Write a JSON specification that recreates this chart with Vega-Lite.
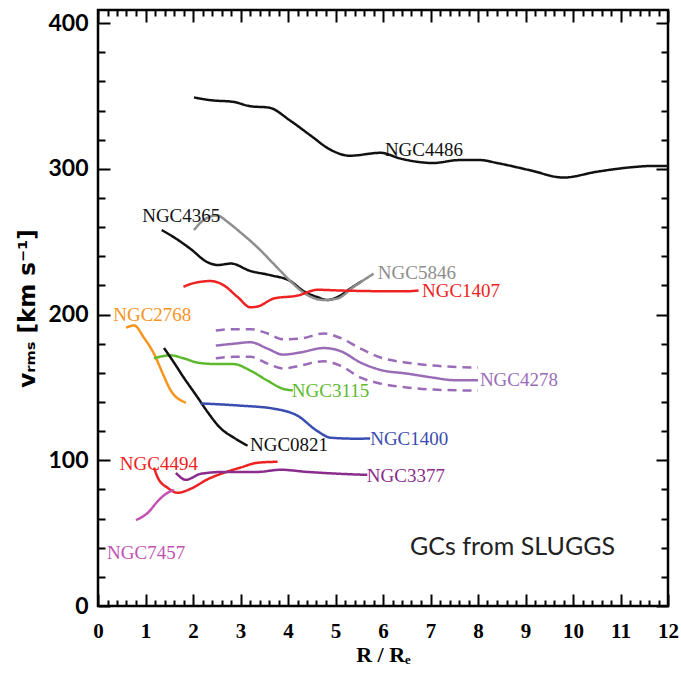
{
  "$schema": "https://vega.github.io/schema/vega-lite/v6.json",
  "width": 570,
  "height": 596,
  "autosize": "none",
  "padding": {"left": 98, "top": 10, "right": 13, "bottom": 67},
  "background": "white",
  "config": {"view": {"stroke": "black", "strokeWidth": 2.5}, "axis": {"grid": false, "domain": false}},
  "datasets": {
    "curves": [
      {"galaxy":"NGC4486","band":"mean","x":2.02,"v":349},{"galaxy":"NGC4486","band":"mean","x":2.4,"v":347},{"galaxy":"NGC4486","band":"mean","x":2.84,"v":346},{"galaxy":"NGC4486","band":"mean","x":3.2,"v":343},{"galaxy":"NGC4486","band":"mean","x":3.6,"v":342},{"galaxy":"NGC4486","band":"mean","x":4.05,"v":333},{"galaxy":"NGC4486","band":"mean","x":4.47,"v":323},{"galaxy":"NGC4486","band":"mean","x":4.9,"v":313},{"galaxy":"NGC4486","band":"mean","x":5.3,"v":309},{"galaxy":"NGC4486","band":"mean","x":5.95,"v":311},{"galaxy":"NGC4486","band":"mean","x":6.37,"v":307},{"galaxy":"NGC4486","band":"mean","x":7.06,"v":304},{"galaxy":"NGC4486","band":"mean","x":7.6,"v":306},{"galaxy":"NGC4486","band":"mean","x":8.05,"v":306},{"galaxy":"NGC4486","band":"mean","x":8.4,"v":304},{"galaxy":"NGC4486","band":"mean","x":9.1,"v":299},{"galaxy":"NGC4486","band":"mean","x":9.8,"v":294},{"galaxy":"NGC4486","band":"mean","x":10.5,"v":298},{"galaxy":"NGC4486","band":"mean","x":11.2,"v":301},{"galaxy":"NGC4486","band":"mean","x":11.7,"v":302},{"galaxy":"NGC4486","band":"mean","x":12.0,"v":302},
      {"galaxy":"NGC4365","band":"mean","x":1.34,"v":258},{"galaxy":"NGC4365","band":"mean","x":1.6,"v":253},{"galaxy":"NGC4365","band":"mean","x":1.95,"v":245},{"galaxy":"NGC4365","band":"mean","x":2.3,"v":236},{"galaxy":"NGC4365","band":"mean","x":2.52,"v":234},{"galaxy":"NGC4365","band":"mean","x":2.8,"v":235},{"galaxy":"NGC4365","band":"mean","x":3.2,"v":230},{"galaxy":"NGC4365","band":"mean","x":3.63,"v":227},{"galaxy":"NGC4365","band":"mean","x":4.05,"v":223},{"galaxy":"NGC4365","band":"mean","x":4.33,"v":216},{"galaxy":"NGC4365","band":"mean","x":4.62,"v":212},{"galaxy":"NGC4365","band":"mean","x":4.83,"v":210},{"galaxy":"NGC4365","band":"mean","x":5.1,"v":213},{"galaxy":"NGC4365","band":"mean","x":5.32,"v":218},{"galaxy":"NGC4365","band":"mean","x":5.56,"v":223},
      {"galaxy":"NGC5846","band":"mean","x":2.02,"v":258},{"galaxy":"NGC5846","band":"mean","x":2.23,"v":265},{"galaxy":"NGC5846","band":"mean","x":2.5,"v":268},{"galaxy":"NGC5846","band":"mean","x":2.75,"v":263},{"galaxy":"NGC5846","band":"mean","x":2.94,"v":258},{"galaxy":"NGC5846","band":"mean","x":3.36,"v":246},{"galaxy":"NGC5846","band":"mean","x":3.78,"v":232},{"galaxy":"NGC5846","band":"mean","x":4.05,"v":223},{"galaxy":"NGC5846","band":"mean","x":4.33,"v":215},{"galaxy":"NGC5846","band":"mean","x":4.75,"v":210},{"galaxy":"NGC5846","band":"mean","x":5.04,"v":211},{"galaxy":"NGC5846","band":"mean","x":5.38,"v":219},{"galaxy":"NGC5846","band":"mean","x":5.8,"v":228},
      {"galaxy":"NGC1407","band":"mean","x":1.8,"v":219},{"galaxy":"NGC1407","band":"mean","x":1.95,"v":221},{"galaxy":"NGC1407","band":"mean","x":2.37,"v":223},{"galaxy":"NGC1407","band":"mean","x":2.65,"v":220},{"galaxy":"NGC1407","band":"mean","x":2.94,"v":212},{"galaxy":"NGC1407","band":"mean","x":3.21,"v":205},{"galaxy":"NGC1407","band":"mean","x":3.36,"v":205.5},{"galaxy":"NGC1407","band":"mean","x":3.7,"v":211},{"galaxy":"NGC1407","band":"mean","x":4.2,"v":213},{"galaxy":"NGC1407","band":"mean","x":4.62,"v":217},{"galaxy":"NGC1407","band":"mean","x":5.1,"v":216.5},{"galaxy":"NGC1407","band":"mean","x":6.16,"v":216},{"galaxy":"NGC1407","band":"mean","x":6.5,"v":216},{"galaxy":"NGC1407","band":"mean","x":6.75,"v":216.5},
      {"galaxy":"NGC2768","band":"mean","x":0.59,"v":191},{"galaxy":"NGC2768","band":"mean","x":0.76,"v":192.5},{"galaxy":"NGC2768","band":"mean","x":0.97,"v":184},{"galaxy":"NGC2768","band":"mean","x":1.18,"v":173},{"galaxy":"NGC2768","band":"mean","x":1.37,"v":159},{"galaxy":"NGC2768","band":"mean","x":1.53,"v":148},{"galaxy":"NGC2768","band":"mean","x":1.85,"v":139.5},
      {"galaxy":"NGC3115","band":"mean","x":1.18,"v":170},{"galaxy":"NGC3115","band":"mean","x":1.53,"v":172},{"galaxy":"NGC3115","band":"mean","x":1.8,"v":170},{"galaxy":"NGC3115","band":"mean","x":2.1,"v":167},{"galaxy":"NGC3115","band":"mean","x":2.52,"v":166},{"galaxy":"NGC3115","band":"mean","x":2.86,"v":166},{"galaxy":"NGC3115","band":"mean","x":3.21,"v":161.5},{"galaxy":"NGC3115","band":"mean","x":3.57,"v":154.6},{"galaxy":"NGC3115","band":"mean","x":3.9,"v":149},{"galaxy":"NGC3115","band":"mean","x":4.1,"v":148},
      {"galaxy":"NGC0821","band":"mean","x":1.39,"v":177},{"galaxy":"NGC0821","band":"mean","x":1.58,"v":168},{"galaxy":"NGC0821","band":"mean","x":1.8,"v":157},{"galaxy":"NGC0821","band":"mean","x":2.1,"v":143},{"galaxy":"NGC0821","band":"mean","x":2.31,"v":133},{"galaxy":"NGC0821","band":"mean","x":2.58,"v":122},{"galaxy":"NGC0821","band":"mean","x":2.86,"v":115.5},{"galaxy":"NGC0821","band":"mean","x":3.15,"v":110},
      {"galaxy":"NGC1400","band":"mean","x":2.16,"v":139},{"galaxy":"NGC1400","band":"mean","x":3.0,"v":137.5},{"galaxy":"NGC1400","band":"mean","x":3.7,"v":135.4},{"galaxy":"NGC1400","band":"mean","x":4.2,"v":130.6},{"galaxy":"NGC1400","band":"mean","x":4.62,"v":120},{"galaxy":"NGC1400","band":"mean","x":4.9,"v":115.5},{"galaxy":"NGC1400","band":"mean","x":5.46,"v":114.8},{"galaxy":"NGC1400","band":"mean","x":5.73,"v":115},
      {"galaxy":"NGC4278","band":"mean","x":2.48,"v":178.7},{"galaxy":"NGC4278","band":"mean","x":2.86,"v":180},{"galaxy":"NGC4278","band":"mean","x":3.21,"v":181},{"galaxy":"NGC4278","band":"mean","x":3.57,"v":176.6},{"galaxy":"NGC4278","band":"mean","x":3.9,"v":172.5},{"galaxy":"NGC4278","band":"mean","x":4.26,"v":174},{"galaxy":"NGC4278","band":"mean","x":4.75,"v":177},{"galaxy":"NGC4278","band":"mean","x":5.1,"v":175},{"galaxy":"NGC4278","band":"mean","x":5.53,"v":167},{"galaxy":"NGC4278","band":"mean","x":5.95,"v":162},{"galaxy":"NGC4278","band":"mean","x":6.5,"v":159.5},{"galaxy":"NGC4278","band":"mean","x":7.06,"v":156.7},{"galaxy":"NGC4278","band":"mean","x":7.48,"v":155},{"galaxy":"NGC4278","band":"mean","x":8.0,"v":155},
      {"galaxy":"NGC4278","band":"upper","x":2.48,"v":189},{"galaxy":"NGC4278","band":"upper","x":2.86,"v":190},{"galaxy":"NGC4278","band":"upper","x":3.21,"v":190},{"galaxy":"NGC4278","band":"upper","x":3.57,"v":187},{"galaxy":"NGC4278","band":"upper","x":3.9,"v":183},{"galaxy":"NGC4278","band":"upper","x":4.26,"v":183.5},{"galaxy":"NGC4278","band":"upper","x":4.75,"v":187},{"galaxy":"NGC4278","band":"upper","x":5.1,"v":184},{"galaxy":"NGC4278","band":"upper","x":5.53,"v":176.6},{"galaxy":"NGC4278","band":"upper","x":5.95,"v":170.5},{"galaxy":"NGC4278","band":"upper","x":6.5,"v":167},{"galaxy":"NGC4278","band":"upper","x":7.06,"v":165},{"galaxy":"NGC4278","band":"upper","x":8.0,"v":163.6},
      {"galaxy":"NGC4278","band":"lower","x":2.48,"v":170},{"galaxy":"NGC4278","band":"lower","x":2.86,"v":171},{"galaxy":"NGC4278","band":"lower","x":3.21,"v":171},{"galaxy":"NGC4278","band":"lower","x":3.57,"v":166.3},{"galaxy":"NGC4278","band":"lower","x":3.9,"v":163},{"galaxy":"NGC4278","band":"lower","x":4.26,"v":165},{"galaxy":"NGC4278","band":"lower","x":4.75,"v":168},{"galaxy":"NGC4278","band":"lower","x":5.1,"v":165},{"galaxy":"NGC4278","band":"lower","x":5.53,"v":156.7},{"galaxy":"NGC4278","band":"lower","x":5.95,"v":152.6},{"galaxy":"NGC4278","band":"lower","x":6.5,"v":150},{"galaxy":"NGC4278","band":"lower","x":7.06,"v":148.5},{"galaxy":"NGC4278","band":"lower","x":8.0,"v":147.8},
      {"galaxy":"NGC4494","band":"mean","x":1.18,"v":95},{"galaxy":"NGC4494","band":"mean","x":1.26,"v":88},{"galaxy":"NGC4494","band":"mean","x":1.47,"v":81},{"galaxy":"NGC4494","band":"mean","x":1.68,"v":77.7},{"galaxy":"NGC4494","band":"mean","x":1.95,"v":80.4},{"galaxy":"NGC4494","band":"mean","x":2.31,"v":87},{"galaxy":"NGC4494","band":"mean","x":2.65,"v":91.4},{"galaxy":"NGC4494","band":"mean","x":3.0,"v":95},{"galaxy":"NGC4494","band":"mean","x":3.36,"v":98.3},{"galaxy":"NGC4494","band":"mean","x":3.78,"v":99},
      {"galaxy":"NGC3377","band":"mean","x":1.64,"v":91.4},{"galaxy":"NGC3377","band":"mean","x":1.85,"v":86.6},{"galaxy":"NGC3377","band":"mean","x":2.16,"v":90.7},{"galaxy":"NGC3377","band":"mean","x":2.65,"v":92},{"galaxy":"NGC3377","band":"mean","x":3.36,"v":92},{"galaxy":"NGC3377","band":"mean","x":3.84,"v":93.5},{"galaxy":"NGC3377","band":"mean","x":4.41,"v":92},{"galaxy":"NGC3377","band":"mean","x":5.1,"v":90.7},{"galaxy":"NGC3377","band":"mean","x":5.67,"v":90},
      {"galaxy":"NGC7457","band":"mean","x":0.8,"v":59},{"galaxy":"NGC7457","band":"mean","x":1.05,"v":64},{"galaxy":"NGC7457","band":"mean","x":1.26,"v":72},{"galaxy":"NGC7457","band":"mean","x":1.43,"v":77},{"galaxy":"NGC7457","band":"mean","x":1.6,"v":79.7}
    ],
    "labels": [
      {"galaxy":"NGC4486","x":6.04,"v":313},
      {"galaxy":"NGC4365","x":0.93,"v":267.7},
      {"galaxy":"NGC5846","x":5.89,"v":228.5},
      {"galaxy":"NGC1407","x":6.82,"v":216},
      {"galaxy":"NGC2768","x":0.32,"v":199.7},
      {"galaxy":"NGC3115","x":4.08,"v":147.6},
      {"galaxy":"NGC0821","x":3.2,"v":110.5},
      {"galaxy":"NGC1400","x":5.73,"v":114.6},
      {"galaxy":"NGC4278","x":8.04,"v":155},
      {"galaxy":"NGC4494","x":0.46,"v":97.5},
      {"galaxy":"NGC3377","x":5.66,"v":89.2},
      {"galaxy":"NGC7457","x":0.19,"v":36.4}
    ],
    "note": [{"text":"GCs from SLUGGS","x":6.57,"v":40.5}]
  },
  "resolve": {"axis": {"x": "independent", "y": "independent"}},
  "layer": [
    {
      "data": {"name": "curves"},
      "mark": {"type": "line", "interpolate": "monotone", "strokeWidth": 2.5},
      "encoding": {
        "x": {"field": "x", "type": "quantitative", "scale": {"domain": [0, 12], "nice": false, "zero": false},
          "axis": {"orient": "bottom", "values": [0,1,2,3,4,5,6,7,8,9,10,11,12], "tickSize": -12, "tickWidth": 2, "tickColor": "black",
            "labelFlush": false, "labelOverlap": false, "labelBound": false, "labelFont": "Liberation Serif", "labelFontWeight": "bold", "labelFontSize": 21, "labelColor": "black", "labelPadding": 26,
            "title": "R / Rₑ", "titleFont": "Liberation Serif", "titleFontWeight": "bold", "titleFontSize": 22, "titleColor": "black", "titlePadding": 3}},
        "y": {"field": "v", "type": "quantitative", "scale": {"domain": [0, 409], "nice": false, "zero": false},
          "axis": {"orient": "left", "values": [0,100,200,300,400], "tickSize": -12, "tickWidth": 2, "tickColor": "black",
            "labelFlush": false, "labelOverlap": false, "labelBound": false, "labelFont": "Lato", "labelFontWeight": "bold", "labelFontSize": 23, "labelColor": "black", "labelPadding": 22,
            "title": "vᵣₘₛ [km s⁻¹]", "titleFont": "DejaVu Sans", "titleFontWeight": "bold", "titleFontSize": 23, "titleColor": "black", "titlePadding": 8}},
        "color": {"field": "galaxy", "type": "nominal", "legend": null,
          "scale": {"domain": ["NGC4486","NGC4365","NGC5846","NGC1407","NGC2768","NGC3115","NGC0821","NGC1400","NGC4278","NGC4494","NGC3377","NGC7457"],
            "range": ["#111111","#111111","#8e8e8e","#ee2222","#f7941d","#5dba2f","#111111","#3a4db0","#9a6cb8","#ee2222","#8a2c8c","#c452b4"]}},
        "strokeDash": {"field": "band", "type": "nominal", "legend": null,
          "scale": {"domain": ["mean","upper","lower"], "range": [[1,0],[9,6],[9,6]]}}
      }
    },
    {
      "data": {"name": "curves"},
      "mark": {"type": "point", "opacity": 0},
      "encoding": {
        "x": {"field": "x", "type": "quantitative", "scale": {"domain": [0, 12], "nice": false, "zero": false},
          "axis": {"orient": "bottom", "values": [0.2,0.4,0.6,0.8,1.2,1.4,1.6,1.8,2.2,2.4,2.6,2.8,3.2,3.4,3.6,3.8,4.2,4.4,4.6,4.8,5.2,5.4,5.6,5.8,6.2,6.4,6.6,6.8,7.2,7.4,7.6,7.8,8.2,8.4,8.6,8.8,9.2,9.4,9.6,9.8,10.2,10.4,10.6,10.8,11.2,11.4,11.6,11.8], "tickSize": -6, "tickWidth": 2, "tickColor": "black", "labels": false, "title": null}},
        "y": {"field": "v", "type": "quantitative", "scale": {"domain": [0, 409], "nice": false, "zero": false},
          "axis": {"orient": "left", "values": [20,40,60,80,120,140,160,180,220,240,260,280,320,340,360,380], "tickSize": -7, "tickWidth": 2, "tickColor": "black", "labels": false, "title": null}}
      }
    },
    {
      "data": {"name": "curves"},
      "mark": {"type": "point", "opacity": 0},
      "encoding": {
        "x": {"field": "x", "type": "quantitative", "scale": {"domain": [0, 12], "nice": false, "zero": false},
          "axis": {"orient": "top", "values": [0,1,2,3,4,5,6,7,8,9,10,11,12], "tickSize": -12, "tickWidth": 2, "tickColor": "black", "labels": false, "title": null}},
        "y": {"field": "v", "type": "quantitative", "scale": {"domain": [0, 409], "nice": false, "zero": false},
          "axis": {"orient": "right", "values": [0,100,200,300,400], "tickSize": -12, "tickWidth": 2, "tickColor": "black", "labels": false, "title": null}}
      }
    },
    {
      "data": {"name": "curves"},
      "mark": {"type": "point", "opacity": 0},
      "encoding": {
        "x": {"field": "x", "type": "quantitative", "scale": {"domain": [0, 12], "nice": false, "zero": false},
          "axis": {"orient": "top", "values": [0.2,0.4,0.6,0.8,1.2,1.4,1.6,1.8,2.2,2.4,2.6,2.8,3.2,3.4,3.6,3.8,4.2,4.4,4.6,4.8,5.2,5.4,5.6,5.8,6.2,6.4,6.6,6.8,7.2,7.4,7.6,7.8,8.2,8.4,8.6,8.8,9.2,9.4,9.6,9.8,10.2,10.4,10.6,10.8,11.2,11.4,11.6,11.8], "tickSize": -6, "tickWidth": 2, "tickColor": "black", "labels": false, "title": null}},
        "y": {"field": "v", "type": "quantitative", "scale": {"domain": [0, 409], "nice": false, "zero": false},
          "axis": {"orient": "right", "values": [20,40,60,80,120,140,160,180,220,240,260,280,320,340,360,380], "tickSize": -7, "tickWidth": 2, "tickColor": "black", "labels": false, "title": null}}
      }
    },
    {
      "data": {"name": "labels"},
      "mark": {"type": "text", "align": "left", "baseline": "middle", "font": "Liberation Serif", "fontSize": 19},
      "encoding": {
        "x": {"field": "x", "type": "quantitative", "scale": {"domain": [0, 12], "nice": false, "zero": false}, "axis": null},
        "y": {"field": "v", "type": "quantitative", "scale": {"domain": [0, 409], "nice": false, "zero": false}, "axis": null},
        "text": {"field": "galaxy"},
        "color": {"field": "galaxy", "type": "nominal", "legend": null,
          "scale": {"domain": ["NGC4486","NGC4365","NGC5846","NGC1407","NGC2768","NGC3115","NGC0821","NGC1400","NGC4278","NGC4494","NGC3377","NGC7457"],
            "range": ["#111111","#111111","#8e8e8e","#ee2222","#f7941d","#5dba2f","#111111","#3a4db0","#9a6cb8","#ee2222","#8a2c8c","#c452b4"]}}
      }
    },
    {
      "data": {"name": "note"},
      "mark": {"type": "text", "align": "left", "baseline": "middle", "font": "Lato", "fontSize": 25, "color": "#222222"},
      "encoding": {
        "x": {"field": "x", "type": "quantitative", "scale": {"domain": [0, 12], "nice": false, "zero": false}, "axis": null},
        "y": {"field": "v", "type": "quantitative", "scale": {"domain": [0, 409], "nice": false, "zero": false}, "axis": null},
        "text": {"field": "text"}
      }
    }
  ]
}
